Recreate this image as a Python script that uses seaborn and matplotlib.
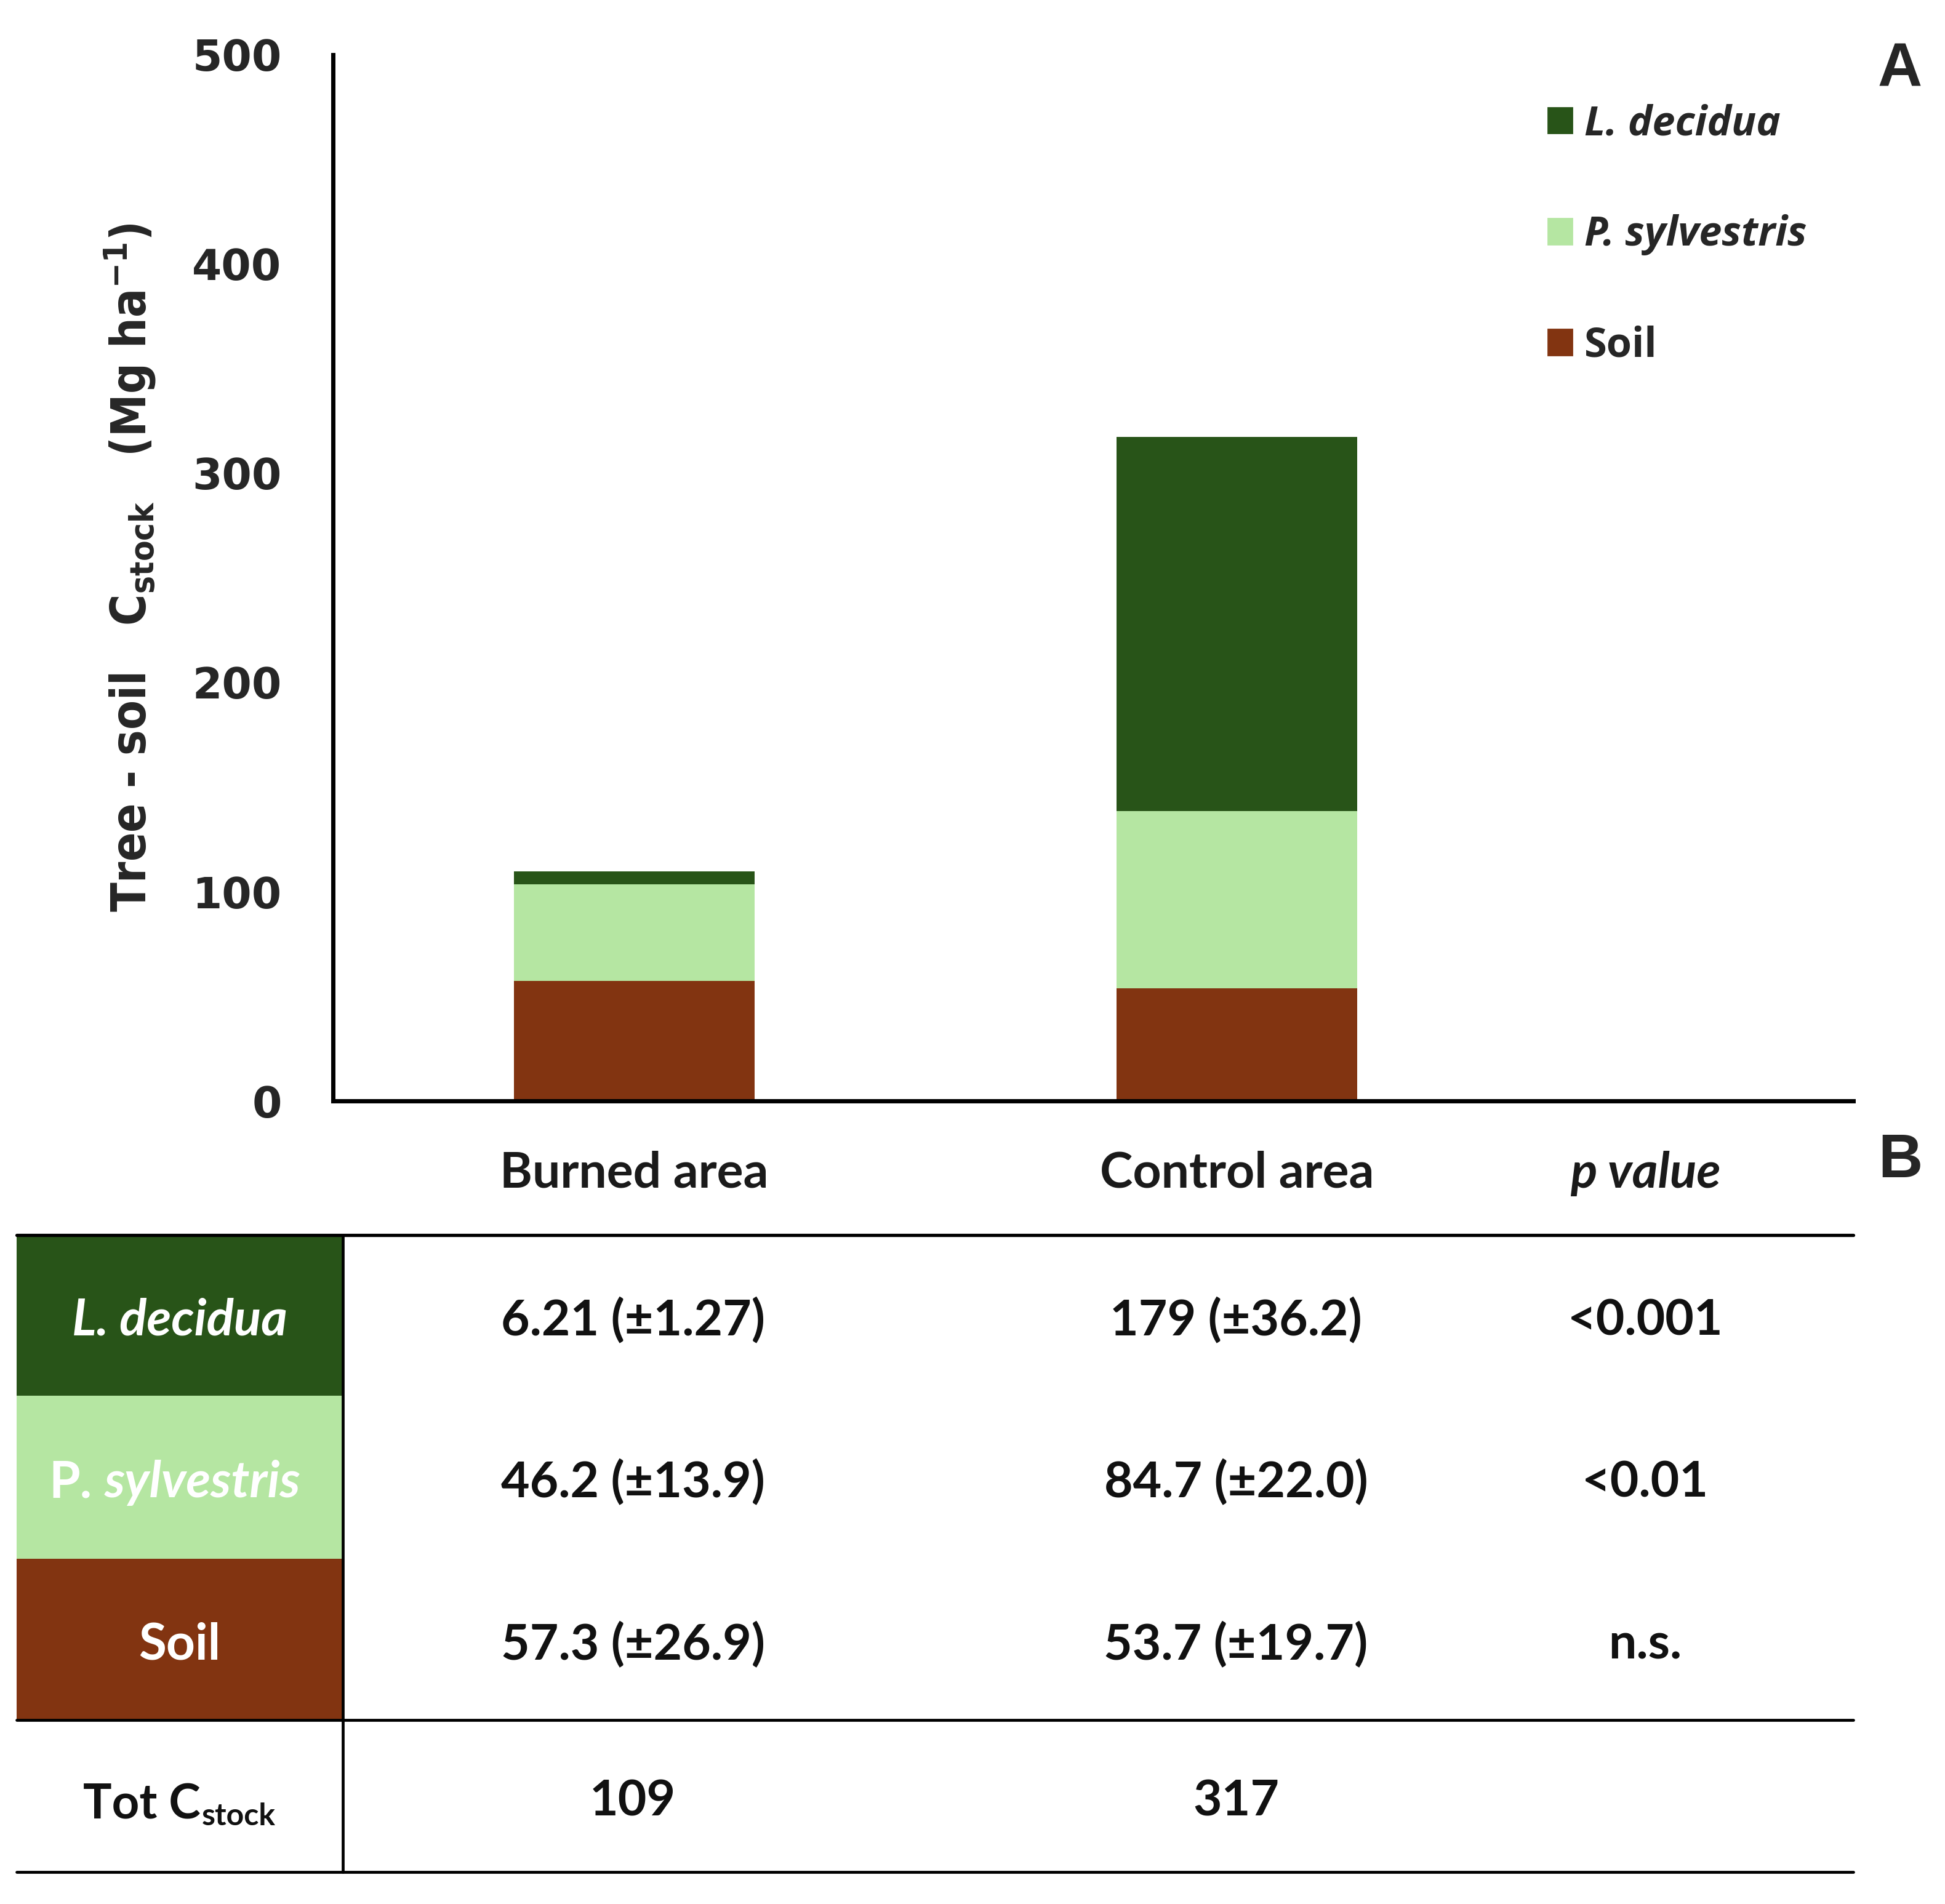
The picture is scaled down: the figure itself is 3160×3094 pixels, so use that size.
import numpy as np
import pandas as pd
import matplotlib
matplotlib.use('Agg')
import matplotlib.pyplot as plt
import seaborn as sns
from matplotlib.patches import Rectangle
from matplotlib.lines import Line2D

# данные
categories = ['Burned area', 'Control area']
soil = [57.3, 53.7]
p_sylvestris = [46.2, 84.7]
l_decidua = [6.21, 179]

# таблица B
row_names = ['L. decidua', 'P. sylvestris', 'Soil']
burned_txt = ['6.21 (±1.27)', '46.2 (±13.9)', '57.3 (±26.9)']
control_txt = ['179 (±36.2)', '84.7 (±22.0)', '53.7 (±19.7)']
p_values = ['<0.001', '<0.01', 'n.s.']
totals = ['109', '317']

c_dark = '#285418'
c_light = '#b5e6a2'
c_soil = '#823411'

sns.set_style('white')
plt.rcParams['font.family'] = ['DejaVu Sans']
plt.rcParams['mathtext.fontset'] = 'custom'
plt.rcParams['mathtext.rm'] = 'DejaVu Sans:weight=bold:stretch=condensed'
plt.rcParams['mathtext.it'] = 'DejaVu Sans:weight=bold:stretch=condensed'
plt.rcParams['mathtext.bf'] = 'DejaVu Sans:weight=bold:stretch=condensed'
plt.rcParams['mathtext.default'] = 'rm'

# координаты в пикселях итоговой картинки
W, H = 3160, 3094
def fx(x):
    return x / W
def fy(y):
    return 1 - y / H

fig = plt.figure(figsize=(15.8, 15.47), dpi=200)
ax = fig.add_axes([fx(541), fy(1789), fx(3011) - fx(541), fy(89) - fy(1789)])

df = pd.DataFrame({'area': categories, 'soil': soil, 'p': p_sylvestris, 'l': l_decidua})
df['soil_p'] = df['soil'] + df['p']
df['total'] = df['soil_p'] + df['l']

# стек через наложение
sns.barplot(data=df, x='area', y='total', color=c_dark, width=0.4, saturation=1, linewidth=0, ax=ax)
sns.barplot(data=df, x='area', y='soil_p', color=c_light, width=0.4, saturation=1, linewidth=0, ax=ax)
sns.barplot(data=df, x='area', y='soil', color=c_soil, width=0.4, saturation=1, linewidth=0, ax=ax)

ax.set_ylim(0, 500)
ax.set_xlim(-0.5, 2.023)
ax.set_yticks([0, 100, 200, 300, 400, 500])
ax.set_xlabel('')
ax.set_ylabel('')
sns.despine(ax=ax)
for s in ['left', 'bottom']:
    ax.spines[s].set_linewidth(2.5)
    ax.spines[s].set_color('black')
ax.tick_params(axis='y', length=0, pad=30, labelsize=25)
ax.tick_params(axis='x', length=0, pad=29)
for t in ax.get_yticklabels():
    t.set_fontweight('heavy')
for t in ax.get_xticklabels():
    t.set_fontfamily('Lato')
    t.set_fontweight('bold')
    t.set_fontsize(29)
    t.set_color('#1a1a1a')

fig.text(fx(211), fy(922), r'Tree - soil   $C_{stock}$   (Mg ha$^{-1}$)',
         rotation=90, ha='center', va='center', fontsize=28,
         family='DejaVu Sans', fontweight='bold', fontstretch='condensed')

# легенда
handles = [Rectangle((0, 0), 1, 1, color=c_dark),
           Rectangle((0, 0), 1, 1, color=c_light),
           Rectangle((0, 0), 1, 1, color=c_soil)]
leg = ax.legend(handles, ['L. decidua', 'P. sylvestris', 'Soil'], loc='upper left',
                bbox_to_anchor=(fx(2515), fy(168)), bbox_transform=fig.transFigure,
                frameon=False, fontsize=24, handlelength=0.58, handleheight=0.58,
                handletextpad=0.3, labelspacing=1.7, borderpad=0, borderaxespad=0)
for i, t in enumerate(leg.get_texts()):
    t.set_fontfamily('Open Sans')
    t.set_fontweight('bold')
    if i < 2:
        t.set_fontstyle('italic')

fig.text(fx(3087), fy(115), 'A', fontsize=36, fontweight='bold', ha='center', va='center',
         family='Liberation Sans')
fig.text(fx(3087), fy(1887), 'B', fontsize=36, fontweight='bold', ha='center', va='center',
         family='Liberation Sans')

# таблица
col_x = [1028, 2008, 2673]
fig.text(fx(col_x[2]), fy(1907), 'p value', fontsize=29, family='Lato', fontweight='bold',
         style='italic', ha='center', va='center', color='#1a1a1a')

row_top = [2007, 2268, 2533]
row_bot = [2268, 2533, 2795]
row_col = [c_dark, c_light, c_soil]
for i in range(3):
    fig.add_artist(Rectangle((fx(27), fy(row_bot[i])), fx(557) - fx(27),
                             fy(row_top[i]) - fy(row_bot[i]), transform=fig.transFigure,
                             color=row_col[i], lw=0))

for y, lw in [(2007, 1.9), (2795, 1.7), (3042, 1.7)]:
    fig.add_artist(Line2D([fx(27), fx(3011)], [fy(y), fy(y)], color='black', lw=lw,
                          transform=fig.transFigure))
fig.add_artist(Line2D([fx(557), fx(557)], [fy(2007), fy(3042)], color='black', lw=1.7,
                      transform=fig.transFigure))

row_y = [(a + b) / 2 + 9 for a, b in zip(row_top, row_bot)]
tkw = dict(fontsize=29, family='Lato', fontweight='bold', va='center', color='#111111')
wkw = {**tkw, 'color': 'white', 'fontsize': 29.5}
fig.text(fx(292), fy(row_y[0]), row_names[0], ha='center', style='italic', **wkw)
fig.text(fx(150), fy(row_y[1]), 'P.', ha='right', **wkw)
fig.text(fx(170), fy(row_y[1]), 'sylvestris', ha='left', style='italic', **wkw)
fig.text(fx(292), fy(row_y[2]), row_names[2], ha='center', **wkw)

for i in range(3):
    fig.text(fx(col_x[0]), fy(row_y[i]), burned_txt[i], ha='center', **tkw)
    fig.text(fx(col_x[1]), fy(row_y[i]), control_txt[i], ha='center', **tkw)
    fig.text(fx(col_x[2]), fy(row_y[i]), p_values[i], ha='center', **tkw)

tot_y = (2795 + 3042) / 2 + 9
fig.text(fx(326), fy(tot_y + 28), 'Tot C', ha='right', va='baseline', fontsize=28,
         family='Lato', fontweight='bold', color='#111111')
fig.text(fx(328), fy(tot_y + 38), 'stock', ha='left', va='baseline', fontsize=18,
         family='Lato', fontweight='bold', color='#111111')
fig.text(fx(col_x[0]), fy(tot_y), totals[0], ha='center', **tkw)
fig.text(fx(col_x[1]), fy(tot_y), totals[1], ha='center', **tkw)

fig.savefig('out.png', dpi=200)
